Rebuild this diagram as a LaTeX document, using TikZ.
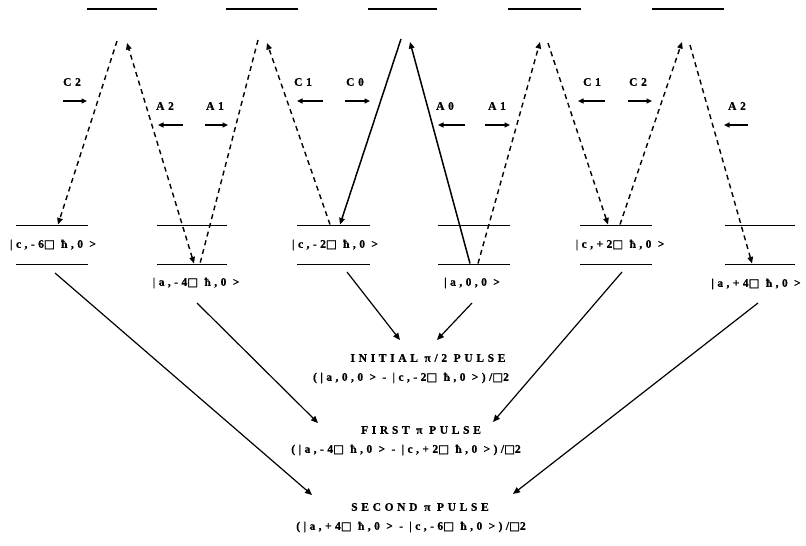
\documentclass[tikz,border=0pt]{standalone}
\usepackage{fontspec}
\setmainfont{Liberation Serif}[LetterSpace=30,BoldFeatures={FakeBold=0.8}]
\newfontfamily\widefont{Liberation Serif}[LetterSpace=32,BoldFeatures={FakeBold=0.8}]
\newfontfamily\symfont{DejaVu Sans}[FakeBold=1.5]
\newcommand\sqbox{{\symfont\fontsize{11.5}{11.5}\selectfont □}}
\usetikzlibrary{arrows.meta}
\begin{document}
\begin{tikzpicture}[x=1pt,y=-1pt,
  every node/.style={inner sep=0pt,font=\fontsize{11.5}{13}\selectfont\bfseries},
  lvl/.style={line width=1.9pt},
  trans/.style={line width=1.4pt, dash pattern=on 5pt off 4pt},
  soltrans/.style={line width=1.5pt},
  tip/.style={-{Triangle[length=6.5pt,width=5.5pt]}},
  bothtip/.style={{Triangle[length=6.5pt,width=5.5pt]}-{Triangle[length=6.5pt,width=5.5pt]}},
  harr/.style={line width=1.5pt,-{Triangle[length=5.5pt,width=5pt]}},
  diag/.style={line width=1.2pt,-{Triangle[length=7pt,width=6pt]}},
  lbl/.style={font=\widefont\fontsize{11.5}{13}\selectfont\bfseries},
  title/.style={font=\widefont\fontsize{11.5}{13}\selectfont\bfseries}
]
\useasboundingbox (0,0) rectangle (806,546);

% excited (top) levels
\foreach \i/\a/\b in {1/87/157,2/226/298,3/368/437,4/508/581,5/652/724}{
  \coordinate (T\i L) at (\a,9); \coordinate (T\i R) at (\b,9);
  \draw[lvl] (T\i L) -- (T\i R);
}
% ground levels (upper and lower of each column)
\foreach \i/\a/\b in {1/16/88,2/157/227,3/297/370,4/438/510,5/580/652,6/725/795}{
  \coordinate (U\i L) at (\a,225.5); \coordinate (U\i R) at (\b,225.5);
  \coordinate (D\i L) at (\a,264.5); \coordinate (D\i R) at (\b,264.5);
  \draw[lvl] (U\i L) -- (U\i R);
  \draw[lvl] (D\i L) -- (D\i R);
}

% peak points
\coordinate (P1l) at (117,41); \coordinate (P1r) at (127,43);
\coordinate (P2l) at (258,40); \coordinate (P2r) at (267,43);
\coordinate (P3l) at (401,39); \coordinate (P3r) at (410,42);
\coordinate (P4l) at (540,42); \coordinate (P4r) at (548,43);
\coordinate (P5l) at (682,42); \coordinate (P5r) at (690,45);
% points on the ground levels
\coordinate (B1) at (58,224.5);
\coordinate (B2a) at (194,263.5); \coordinate (B2b) at (200,263.5);
\coordinate (B3a) at (330,224.5); \coordinate (B3b) at (340,224.5);
\coordinate (B4a) at (470,263.5); \coordinate (B4b) at (478,263.5);
\coordinate (B5a) at (608,224.5); \coordinate (B5b) at (620,224.5);
\coordinate (B6) at (752,263.5);

% transitions
\draw[trans,tip] (P1l) -- (B1);
\draw[trans,bothtip] (B2a) -- (P1r);
\draw[trans] (P2l) -- (B2b);
\draw[trans,tip] (B3a) -- (P2r);
\draw[soltrans,tip] (P3l) -- (B3b);
\draw[soltrans,tip] (B4a) -- (P3r);
\draw[trans,tip] (B4b) -- (P4l);
\draw[trans,tip] (P4r) -- (B5a);
\draw[trans,tip] (B5b) -- (P5l);
\draw[trans,tip] (P5r) -- (B6);

% beam labels and direction arrows
\node[lbl] (lC2a) at (72,82) {C2};
\coordinate (hC2aS) at (63,101); \coordinate (hC2aE) at (87,101);
\draw[harr] (hC2aS) -- (hC2aE);
\node[lbl] (lA2a) at (165,106) {A2};
\coordinate (hA2aS) at (183,125); \coordinate (hA2aE) at (158,125);
\draw[harr] (hA2aS) -- (hA2aE);
\node[lbl] (lA1a) at (215,106) {A1};
\coordinate (hA1aS) at (205,125); \coordinate (hA1aE) at (228,125);
\draw[harr] (hA1aS) -- (hA1aE);
\node[lbl] (lC1a) at (303,82) {C1};
\coordinate (hC1aS) at (323,101); \coordinate (hC1aE) at (297,101);
\draw[harr] (hC1aS) -- (hC1aE);
\node[lbl] (lC0) at (355,82) {C0};
\coordinate (hC0S) at (345,101); \coordinate (hC0E) at (370,101);
\draw[harr] (hC0S) -- (hC0E);
\node[lbl] (lA0) at (445,106) {A0};
\coordinate (hA0S) at (465,125); \coordinate (hA0E) at (438,125);
\draw[harr] (hA0S) -- (hA0E);
\node[lbl] (lA1b) at (497,106) {A1};
\coordinate (hA1bS) at (485,125); \coordinate (hA1bE) at (510,125);
\draw[harr] (hA1bS) -- (hA1bE);
\node[lbl] (lC1b) at (592,82) {C1};
\coordinate (hC1bS) at (605,101); \coordinate (hC1bE) at (578,101);
\draw[harr] (hC1bS) -- (hC1bE);
\node[lbl] (lC2b) at (638,82) {C2};
\coordinate (hC2bS) at (628,101); \coordinate (hC2bE) at (652,101);
\draw[harr] (hC2bS) -- (hC2bE);
\node[lbl] (lA2b) at (737,106) {A2};
\coordinate (hA2bS) at (748,125); \coordinate (hA2bE) at (724,125);
\draw[harr] (hA2bS) -- (hA2bE);

% state labels
\node (s1) at (53,245) {|c,-6\sqbox{} ħ,0 >};
\node (s2) at (196,283) {|a,-4\sqbox{} ħ,0 >};
\node (s3) at (335,245) {|c,-2\sqbox{} ħ,0 >};
\node (s4) at (472,283) {|a,0,0 >};
\node (s5) at (620,245) {|c,+2\sqbox{} ħ,0 >};
\node (s6) at (756,284) {|a,+4\sqbox{} ħ,0 >};

% pulses
\node[title] (init) at (428,358) {INITIAL π/2 PULSE};
\node (initf) at (411,378) {(|a,0,0 > - |c,-2\sqbox{} ħ,0 >)/\sqbox{}2};
\node[title] (first) at (421,430) {FIRST π PULSE};
\node (firstf) at (406,450) {(|a,-4\sqbox{} ħ,0 > - |c,+2\sqbox{} ħ,0 >)/\sqbox{}2};
\node[title] (second) at (420,507) {SECOND π PULSE};
\node (secondf) at (411,527) {(|a,+4\sqbox{} ħ,0 > - |c,-6\sqbox{} ħ,0 >)/\sqbox{}2};

% feeding arrows
\coordinate (g1) at (55,273); \coordinate (t1) at (312,495);
\coordinate (g2) at (197,303); \coordinate (t2) at (318,423);
\coordinate (g3) at (347,272); \coordinate (t3) at (400,340);
\coordinate (g4) at (472,303); \coordinate (t4) at (437,340);
\coordinate (g5) at (622,272); \coordinate (t5) at (493,422);
\coordinate (g6) at (758,303); \coordinate (t6) at (513,494);
\foreach \k in {1,...,6}{ \draw[diag] (g\k) -- (t\k); }
\end{tikzpicture}
\end{document}
